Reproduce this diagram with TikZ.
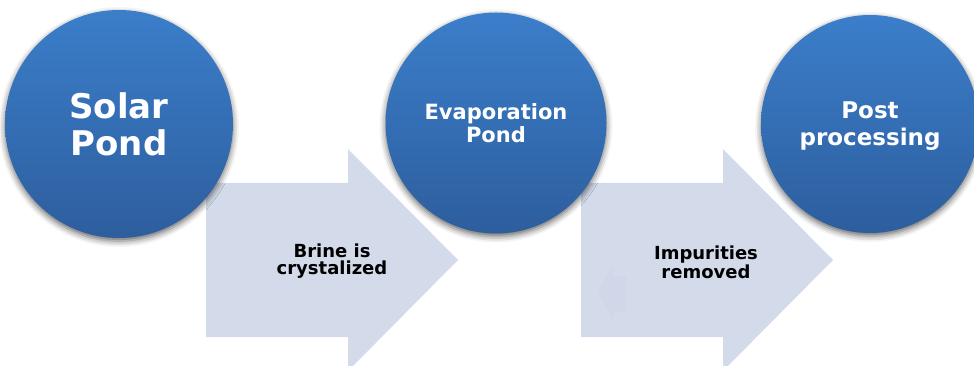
\documentclass[tikz,border=0pt]{standalone}
\usepackage{fontspec}
\setmainfont{DejaVu Sans}
\usetikzlibrary{shadows.blur}

\definecolor{pondtop}{RGB}{59,126,202}
\definecolor{pondbot}{RGB}{45,94,158}
\definecolor{arrowfill}{RGB}{211,219,234}
\definecolor{ghostfill}{RGB}{207,215,232}

\begin{document}
\begin{tikzpicture}[x=1pt,y=-1pt,
    pond/.style={circle, inner sep=0pt, top color=pondtop, bottom color=pondbot,
      text=white, align=center, text depth=0pt,
      blur shadow={shadow xshift=0pt, shadow yshift=-3pt, shadow blur radius=6pt, shadow opacity=60}},
    flowtext/.style={font=\bfseries\fontsize{18}{17}\selectfont, align=center, text depth=0pt}]

    % Fix the page to the slide region
    \useasboundingbox (0,0) rectangle (974,366);
    \clip (0,0) rectangle (974,366);

    % The two light arrows
    \foreach \ax in {206,581} {
        \fill[arrowfill] (\ax,183) -- ++(142,0) -- ++(0,-34) -- ++(110,111)
            -- ++(-110,111) -- ++(0,-34) -- ++(-142,0) -- cycle;
    }

    % Faint arrow left inside the second one
    \fill[ghostfill] (598,292) -- (613,265) -- (613,276) -- (626,276)
        -- (626,311) -- (613,311) -- (613,320) -- cycle;

    \node[flowtext] (brine) at (332,259) {Brine is\\crystalized};
    \node[flowtext] (impure) at (706,262) {Impurities\\removed};

    % The three stages
    \node[pond, minimum size=228pt, font=\bfseries\fontsize{34}{37}\selectfont]
        (solar) at (119,124) {Solar\\Pond};
    \node[pond, minimum size=221pt, font=\bfseries\fontsize{21}{23}\selectfont]
        (evap) at (496,123) {Evaporation\\Pond};
    \node[pond, minimum size=218pt, font=\bfseries\fontsize{23}{27}\selectfont]
        (post) at (870,124) {Post\\processing};

\end{tikzpicture}
\end{document}
